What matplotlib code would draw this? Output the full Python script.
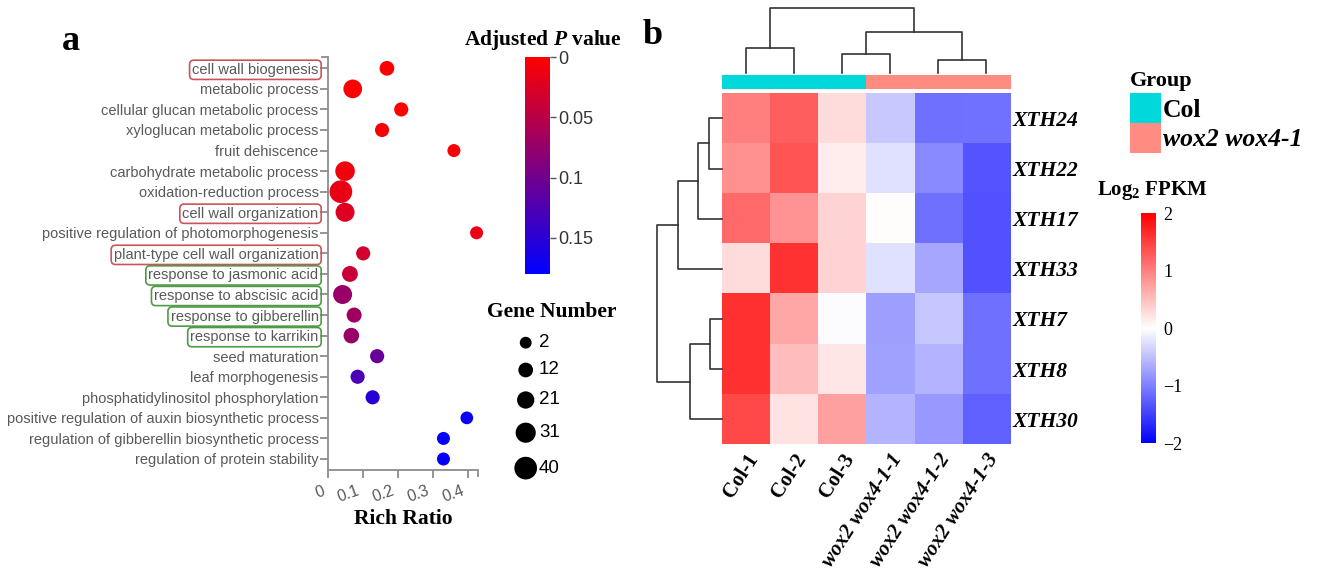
import matplotlib.pyplot as plt
import numpy as np
from matplotlib.colors import LinearSegmentedColormap, ListedColormap, Normalize
from matplotlib.cm import ScalarMappable
from matplotlib.patches import Patch
from matplotlib.transforms import ScaledTranslation

plt.rcParams['mathtext.fontset'] = 'custom'
plt.rcParams['mathtext.rm'] = 'Liberation Serif:bold'
plt.rcParams['mathtext.it'] = 'Liberation Serif:italic:bold'
plt.rcParams['mathtext.bf'] = 'Liberation Serif:bold'

SERIF = 'Liberation Serif'
SANS = 'Liberation Sans'

# ---- panel a: GO enrichment ----
terms = [
    'cell wall biogenesis', 'metabolic process', 'cellular glucan metabolic process',
    'xyloglucan metabolic process', 'fruit dehiscence', 'carbohydrate metabolic process',
    'oxidation-reduction process', 'cell wall organization',
    'positive regulation of photomorphogenesis', 'plant-type cell wall organization',
    'response to jasmonic acid', 'response to abscisic acid', 'response to gibberellin',
    'response to karrikin', 'seed maturation', 'leaf morphogenesis',
    'phosphatidylinositol phosphorylation',
    'positive regulation of auxin biosynthetic process',
    'regulation of gibberellin biosynthetic process', 'regulation of protein stability',
]
rich_ratio = [0.168, 0.070, 0.209, 0.154, 0.360, 0.048, 0.036, 0.048, 0.425, 0.100,
              0.062, 0.041, 0.074, 0.066, 0.140, 0.084, 0.127, 0.397, 0.330, 0.330]
gene_number = [12, 26, 10, 10, 6, 29, 40, 27, 6, 10, 16, 27, 13, 15, 10, 10, 10, 5, 6, 6]
adj_p = [0.001, 0.002, 0.002, 0.004, 0.006, 0.010, 0.015, 0.024, 0.014, 0.033,
         0.039, 0.073, 0.068, 0.073, 0.107, 0.128, 0.152, 0.172, 0.176, 0.176]
boxed_red = ['cell wall biogenesis', 'cell wall organization', 'plant-type cell wall organization']
boxed_green = ['response to jasmonic acid', 'response to abscisic acid',
               'response to gibberellin', 'response to karrikin']
size_levels = [2, 12, 21, 31, 40]
p_ticks = [0, 0.05, 0.1, 0.15]
p_tick_labels = ['0', '0.05', '0.1', '0.15']
ratio_ticks = [0, 0.1, 0.2, 0.3, 0.4]

# ---- panel b: heatmap ----
genes = ['XTH24', 'XTH22', 'XTH17', 'XTH33', 'XTH7', 'XTH8', 'XTH30']
samples = ['Col-1', 'Col-2', 'Col-3', 'wox2 wox4-1-1', 'wox2 wox4-1-2', 'wox2 wox4-1-3']
sample_group = [0, 0, 0, 1, 1, 1]
group_names = ['Col', 'wox2 wox4-1']
group_colors = ['#00d8dc', '#ff8c80']
log2_fpkm = np.array([
    [1.00, 1.25, 0.27, -0.43, -1.12, -1.10],
    [0.87, 1.33, 0.15, -0.24, -0.93, -1.33],
    [1.17, 0.83, 0.33, 0.03, -1.12, -1.35],
    [0.27, 1.60, 0.33, -0.24, -0.70, -1.35],
    [1.62, 0.70, -0.02, -0.76, -0.45, -1.12],
    [1.62, 0.52, 0.20, -0.75, -0.58, -1.12],
    [1.43, 0.23, 0.74, -0.58, -0.80, -1.25],
])
# merges: (cluster a, cluster b, height), scipy-like numbering
col_linkage = [(0, 1, 2.50), (2, 3, 1.93), (4, 5, 1.33), (7, 8, 4.10), (6, 9, 6.50)]
row_linkage = [(0, 1, 1.24), (7, 2, 2.34), (8, 3, 4.34), (4, 5, 1.17), (10, 6, 3.17), (9, 11, 6.47)]
fpkm_ticks = [2, 1, 0, -1, -2]

W, H = 1324, 577


def box(x0, y0, x1, y1):
    return [x0 / W, 1 - y1 / H, (x1 - x0) / W, (y1 - y0) / H]


def gene_diam(n):
    # marker diameter in pixels
    return 11.3 + 0.285 * np.asarray(n, dtype=float)


def gene_size(n):
    return (gene_diam(n) * 0.72) ** 2


def draw_dendro(ax, linkage, n, orient):
    pos = {i: float(i) for i in range(n)}
    hgt = {i: 0.0 for i in range(n)}
    for k, (a, b, h) in enumerate(linkage):
        xs = [pos[a], pos[a], pos[b], pos[b]]
        hs = [hgt[a], h, h, hgt[b]]
        if orient == 'top':
            ax.plot(xs, hs, color='#333333', lw=1.2, clip_on=False)
        else:
            ax.plot(hs, xs, color='#333333', lw=1.2, clip_on=False)
        pos[n + k] = (pos[a] + pos[b]) / 2
        hgt[n + k] = h


fig = plt.figure(figsize=(13.24, 5.77), dpi=100)

# bubble chart
ax = fig.add_axes(box(328.3, 57, 478, 470))
yy = np.arange(len(terms))
pcmap = LinearSegmentedColormap.from_list('rb', ['#ff0000', '#0000ff'])
pnorm = Normalize(0, 0.18)
ax.scatter(rich_ratio, yy, s=gene_size(gene_number), c=adj_p, cmap=pcmap, norm=pnorm,
           linewidths=0, zorder=3, clip_on=False)
ax.set_xlim(0, 0.429)
ax.set_ylim(len(terms) - 0.465, -0.55)
ax.set_yticks(yy, terms)
# little end caps at the far ends of both axes
ax.set_xticks([ax.get_xlim()[1]], minor=True)
ax.set_yticks([ax.get_ylim()[1]], minor=True)
for side in ['top', 'right']:
    ax.spines[side].set_visible(False)
for side in ['left', 'bottom']:
    ax.spines[side].set_color('#8c8c8c')
    ax.spines[side].set_linewidth(1.3)
ax.tick_params(axis='both', which='minor', length=5, width=1.3, color='#8c8c8c')
ax.tick_params(axis='y', length=5.5, width=1.3, color='#8c8c8c', labelcolor='#595959',
               labelsize=10.5, pad=1.5)
ax.set_xticks(ratio_ticks, [f'{t:g}' for t in ratio_ticks])
ax.tick_params(axis='x', length=5.5, width=1.3, color='#8c8c8c', labelcolor='#595959',
               labelsize=11.5, pad=4)
shift_left = ScaledTranslation(-7 / 100, 0, fig.dpi_scale_trans)
for lbl in ax.get_xticklabels():
    lbl.set_rotation(20)
    lbl.set_ha('right')
    lbl.set_rotation_mode('anchor')
    lbl.set_fontfamily(SANS)
    lbl.set_transform(lbl.get_transform() + shift_left)
for lbl in ax.get_yticklabels():
    lbl.set_fontfamily(SANS)
    if lbl.get_text() in boxed_red:
        lbl.set_bbox(dict(boxstyle='round,pad=0.18,rounding_size=0.3', fc='none', ec='#c8555a', lw=1.2))
    elif lbl.get_text() in boxed_green:
        lbl.set_bbox(dict(boxstyle='round,pad=0.18,rounding_size=0.3', fc='none', ec='#4f9a45', lw=1.2))
ax.set_xlabel('Rich Ratio', fontfamily=SERIF, fontweight='bold', fontsize=15.5, labelpad=3)

# p-value colour bar
cax = fig.add_axes(box(525, 57, 550, 274))
cb = fig.colorbar(ScalarMappable(pnorm, pcmap), cax=cax, ticks=p_ticks)
cb.ax.invert_yaxis()
cb.outline.set_visible(False)
cb.ax.set_yticklabels(p_tick_labels, fontfamily=SANS)
cb.ax.tick_params(length=4, width=1, color='#555555', labelsize=13, labelcolor='#333333', pad=2)
fig.text(543 / W, 1 - 40 / H, 'Adjusted $P$ value', ha='center', va='center',
         fontfamily=SERIF, fontweight='bold', fontsize=15.5)

# gene number legend (pixel-unit axes, rows spaced by marker size)
lax = fig.add_axes(box(500, 325, 640, 490))
lax.set_xlim(500, 640)
lax.set_ylim(490, 325)
lax.axis('off')
d = gene_diam(size_levels)
leg_y = 342.7 + np.concatenate([[0], np.cumsum((d[:-1] + d[1:]) / 2 + 14)])
lax.scatter(np.full(len(size_levels), 525.7), leg_y, s=gene_size(size_levels), color='black',
            linewidths=0, clip_on=False)
for n, yv in zip(size_levels, leg_y):
    lax.text(539, yv, str(n), ha='left', va='center', fontfamily=SANS, fontsize=13.5)
fig.text(552 / W, 1 - 312 / H, 'Gene Number', ha='center', va='center', fontfamily=SERIF,
         fontweight='bold', fontsize=15.5)

fig.text(71 / W, 1 - 41 / H, 'a', ha='center', va='center', fontfamily=SERIF,
         fontweight='bold', fontsize=26)
fig.text(653 / W, 1 - 35 / H, 'b', ha='center', va='center', fontfamily=SERIF,
         fontweight='bold', fontsize=26)

# heatmap
hax = fig.add_axes(box(721.7, 93.3, 1010, 444.3))
hcmap = LinearSegmentedColormap.from_list('bwr2', ['#0000ff', '#ffffff', '#ff0000'])
hax.imshow(log2_fpkm, cmap=hcmap, vmin=-2, vmax=2, aspect='auto', interpolation='nearest')
hax.set_xticks(range(len(samples)), samples)
hax.yaxis.tick_right()
hax.set_yticks(range(len(genes)), genes)
hax.tick_params(axis='y', length=0, pad=2)
hax.tick_params(axis='x', length=0, pad=4)
for s in hax.spines.values():
    s.set_visible(False)
for lbl in hax.get_xticklabels():
    lbl.set_rotation(57)
    lbl.set_ha('right')
    lbl.set_rotation_mode('anchor')
    lbl.set_fontfamily(SERIF)
    lbl.set_fontweight('bold')
    lbl.set_fontsize(15)
    if lbl.get_text().startswith('wox'):
        lbl.set_fontstyle('italic')
for lbl in hax.get_yticklabels():
    lbl.set_fontfamily(SERIF)
    lbl.set_fontweight('bold')
    lbl.set_fontstyle('italic')
    lbl.set_fontsize(15.5)

# group bar
gax = fig.add_axes(box(721.7, 75, 1010, 89.3))
gax.imshow([sample_group], cmap=ListedColormap(group_colors), vmin=0, vmax=1,
           aspect='auto', interpolation='nearest')
gax.axis('off')

# dendrograms
dax = fig.add_axes(box(721.7, 8.3, 1010, 73.3))
draw_dendro(dax, col_linkage, len(samples), 'top')
dax.set_xlim(-0.5, len(samples) - 0.5)
dax.set_ylim(0, 6.5)
dax.axis('off')

rax = fig.add_axes(box(657, 93.3, 721.7, 444.3))
draw_dendro(rax, row_linkage, len(genes), 'left')
rax.set_ylim(len(genes) - 0.5, -0.5)
rax.set_xlim(6.47, 0)
rax.axis('off')

# group legend
fig.text(1130 / W, 1 - 81 / H, 'Group', ha='left', va='center', fontfamily=SERIF,
         fontweight='bold', fontsize=16)
gleg = fig.legend([Patch(fc=c, ec='none') for c in group_colors], group_names,
                  loc='upper left', bbox_to_anchor=(1130 / W, 1 - 93.3 / H), frameon=False,
                  prop={'family': SERIF, 'weight': 'bold', 'size': 18.5},
                  handlelength=1.19, handleheight=1.4, labelspacing=0, handletextpad=0.1,
                  borderpad=0, borderaxespad=0)
gleg.get_texts()[1].set_fontstyle('italic')

# log2 FPKM colour bar
fcax = fig.add_axes(box(1140.7, 213.3, 1156, 443.3))
fcb = fig.colorbar(ScalarMappable(Normalize(-2, 2), hcmap), cax=fcax, ticks=fpkm_ticks)
fcb.outline.set_visible(False)
fcb.ax.set_yticklabels([f'{t}'.replace('-', '\u2212') for t in fpkm_ticks], fontfamily=SERIF)
fcb.ax.tick_params(length=0, labelsize=13, pad=5)
fig.text(1152 / W, 1 - 190 / H, 'Log$_2$ FPKM', ha='center', va='center',
         fontfamily=SERIF, fontweight='bold', fontsize=15)

fig.savefig('out.png', dpi=100)
